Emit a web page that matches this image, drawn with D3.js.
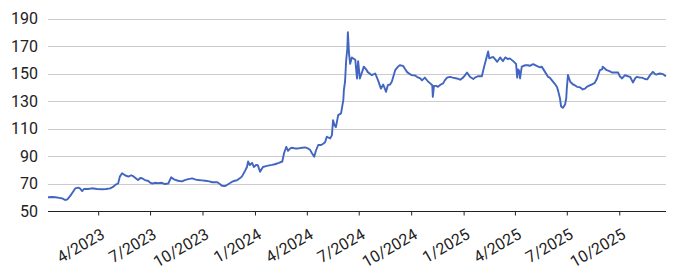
<!DOCTYPE html>
<html>
<head>
<meta charset="utf-8">
<script src="https://cdn.jsdelivr.net/npm/d3@7"></script>
<style>
  html, body { margin: 0; padding: 0; background: #fff; }
  svg { display: block; font-family: Roboto, "Noto Sans", sans-serif; }
</style>
</head>
<body>
<svg id="chart" width="681" height="278"></svg>
<script>
const dates = [
"2023-01-03","2023-01-10","2023-01-16","2023-01-23","2023-01-28","2023-02-02","2023-02-06","2023-02-11","2023-02-16","2023-02-20",
"2023-02-25","2023-02-28","2023-03-04","2023-03-07","2023-03-14","2023-03-21","2023-03-30","2023-04-08","2023-04-15","2023-04-22",
"2023-04-27","2023-05-01","2023-05-06","2023-05-09","2023-05-13","2023-05-18","2023-05-24","2023-05-29","2023-06-01","2023-06-07",
"2023-06-10","2023-06-14","2023-06-17","2023-06-22","2023-06-28","2023-07-01","2023-07-05","2023-07-10","2023-07-15","2023-07-22",
"2023-07-27","2023-08-02","2023-08-07","2023-08-12","2023-08-19","2023-08-26","2023-08-31","2023-09-06","2023-09-13","2023-09-18",
"2023-09-23","2023-09-30","2023-10-06","2023-10-13","2023-10-18","2023-10-27","2023-11-01","2023-11-04","2023-11-10","2023-11-15",
"2023-11-22","2023-11-27","2023-12-01","2023-12-06","2023-12-09","2023-12-15","2023-12-18","2023-12-20","2023-12-23","2023-12-27",
"2023-12-30","2024-01-03","2024-01-06","2024-01-10","2024-01-15","2024-01-19","2024-01-24","2024-01-31","2024-02-05","2024-02-12",
"2024-02-18","2024-02-21","2024-02-25","2024-02-28","2024-03-03","2024-03-06","2024-03-11","2024-03-17","2024-03-24","2024-03-29",
"2024-04-03","2024-04-07","2024-04-10","2024-04-14","2024-04-17","2024-04-21","2024-04-26","2024-04-29","2024-05-03","2024-05-06",
"2024-05-12","2024-05-15","2024-05-17","2024-05-20","2024-05-22","2024-05-26","2024-05-31","2024-06-04","2024-06-05","2024-06-07",
"2024-06-09","2024-06-11","2024-06-12","2024-06-14","2024-06-16","2024-06-19","2024-06-25","2024-06-28","2024-06-30","2024-07-03",
"2024-07-07","2024-07-10","2024-07-14","2024-07-17","2024-07-24","2024-07-30","2024-08-04","2024-08-09","2024-08-13","2024-08-18",
"2024-08-21","2024-08-25","2024-08-28","2024-09-03","2024-09-08","2024-09-11","2024-09-17","2024-09-20","2024-09-24","2024-09-29",
"2024-10-02","2024-10-08","2024-10-11","2024-10-17","2024-10-20","2024-10-25","2024-10-31","2024-11-03","2024-11-07","2024-11-08",
"2024-11-10","2024-11-14","2024-11-17","2024-11-22","2024-11-26","2024-11-29","2024-12-03","2024-12-08","2024-12-13","2024-12-20",
"2024-12-26","2024-12-31","2025-01-03","2025-01-07","2025-01-12","2025-01-18","2025-01-21","2025-01-26","2025-02-02","2025-02-06",
"2025-02-09","2025-02-13","2025-02-15","2025-02-18","2025-02-22","2025-02-25","2025-03-01","2025-03-06","2025-03-11","2025-03-15",
"2025-03-20","2025-03-23","2025-03-29","2025-04-03","2025-04-05","2025-04-06","2025-04-08","2025-04-10","2025-04-13","2025-04-19",
"2025-04-24","2025-04-27","2025-05-03","2025-05-10","2025-05-15","2025-05-18","2025-05-24","2025-05-29","2025-06-01","2025-06-05",
"2025-06-10","2025-06-14","2025-06-16","2025-06-19","2025-06-21","2025-06-24","2025-06-28","2025-06-30","2025-07-01","2025-07-03",
"2025-07-07","2025-07-12","2025-07-15","2025-07-19","2025-07-24","2025-07-29","2025-08-02","2025-08-05","2025-08-11","2025-08-14",
"2025-08-19","2025-08-23","2025-08-28","2025-09-01","2025-09-02","2025-09-06","2025-09-09","2025-09-15","2025-09-18","2025-09-24",
"2025-09-29","2025-10-02","2025-10-06","2025-10-11","2025-10-16","2025-10-20","2025-10-25","2025-10-29","2025-11-01","2025-11-06",
"2025-11-10","2025-11-15","2025-11-19","2025-11-24","2025-11-29","2025-12-03","2025-12-06","2025-12-11","2025-12-17","2025-12-20",
"2025-12-22"
];
const values = [
60,60.2,60,59.5,59.2,58,58.5,61,64,66.5,
67,66.5,64.5,66,66,66.5,66,65.8,66,66.5,
67.5,69,70,75,77.4,76,75,76,75.4,73.5,
72.5,74,73.8,72.5,71.8,70.6,70,70.5,70.3,70.5,
69.6,70,74.5,73,72,71.5,72.5,73.2,73.7,73,
72.5,72.3,72,71.5,70.9,70.9,69.5,68.4,68.2,69.5,
71.3,72,72.5,74,75,79.5,82,86,83.4,85,
82,83.5,83.4,78.5,82,82.5,83,83.5,84,85,
86,92,96.7,93.8,95.5,96,95.5,95.5,96,96.3,
95.5,94.3,92,89.5,94,98,98,98.7,100,104,
102.8,105.2,116,112,111,119.7,121,130.6,138,144,
159.6,168,180,164.5,157,161.7,160,146.4,159,146.4,
151.2,155,153,151,148.8,150,145,139,142,136.7,
141.5,142,144,152.4,155,156,155.5,153.5,151,149.5,
148.8,148.5,147.6,146.5,145,147,144,143,141.5,133,
141,141,140.3,142,142.8,145,147,147.5,147,146.4,
145.5,147,148.5,150.7,147.6,146,147,148,148,155,
159.7,166,161,161.5,162,160.5,158.5,161.7,159,161.7,
160.5,161,159,157,147,153,152.4,146.4,155,156,
156,155.5,156.8,155.3,154.5,155,151,147.6,147,145,
142.5,140,137,132,126,125,127.5,132,139,149,
144,142,141.5,140.3,140,138.4,139,140.3,141.5,142,
143.2,146.4,152.4,153,155,153.5,152.4,151.5,150.7,150.7,
150.7,148,146.4,148.8,148,147.6,143.5,146.5,147.6,147,
147,146,145.7,148.8,151.2,149.5,149.3,150,149.5,148.5,
148
];
const yTicks = [50, 70, 90, 110, 130, 150, 170, 190];
const xTickDates = ["2023-04-01","2023-07-01","2023-10-01","2024-01-01","2024-04-01","2024-07-01","2024-10-01","2025-01-01","2025-04-01","2025-07-01","2025-10-01"];

const parse = d3.timeParse("%Y-%m-%d");
const data = dates.map((d, i) => ({ date: parse(d), value: values[i] }));

const svg = d3.select("#chart");
const plotLeft = 48, plotRight = 666, plotTop = 18.5, plotBottom = 211;

const x = d3.scaleTime().domain(d3.extent(data, d => d.date)).range([plotLeft, plotRight]);
const y = d3.scaleLinear().domain([50, 190]).range([plotBottom, plotTop]);

// grid
svg.append("g")
  .selectAll("line")
  .data(yTicks.filter(t => t !== 50))
  .join("line")
  .attr("x1", plotLeft).attr("x2", plotRight)
  .attr("y1", d => Math.round(y(d)) + 0.5).attr("y2", d => Math.round(y(d)) + 0.5)
  .attr("stroke", "#cccccc").attr("stroke-width", 1);

// y labels
svg.append("g")
  .selectAll("text")
  .data(yTicks)
  .join("text")
  .attr("x", 38)
  .attr("y", d => y(d))
  .attr("dy", "0.36em")
  .attr("text-anchor", "end")
  .attr("font-size", 16)
  .attr("fill", "#222")
  .text(d => d);

// line
const line = d3.line().x(d => x(d.date)).y(d => y(d.value));
svg.append("path")
  .datum(data)
  .attr("d", line)
  .attr("fill", "none")
  .attr("stroke", "#4165c0")
  .attr("stroke-width", 1.9)
  .attr("stroke-linejoin", "round");

// x axis
const xt = xTickDates.map(parse);
const xAxis = d3.axisBottom(x).tickValues(xt).tickSize(4).tickSizeOuter(0)
  .tickFormat(d => (d.getMonth() + 1) + "/" + d.getFullYear());
const gx = svg.append("g").attr("transform", `translate(0,${Math.round(plotBottom) + 0.5})`).call(xAxis);
gx.select(".domain").attr("stroke", "#222").attr("d", `M${plotLeft},0H${plotRight}`);
gx.selectAll(".tick line").attr("stroke", "#222");
gx.selectAll(".tick text")
  .attr("font-size", 16)
  .attr("font-family", "Roboto, sans-serif")
  .attr("fill", "#222")
  .attr("text-anchor", "end")
  .attr("dy", null)
  .attr("y", null)
  .attr("transform", "translate(7,26) rotate(-30)");
</script>
</body>
</html>
